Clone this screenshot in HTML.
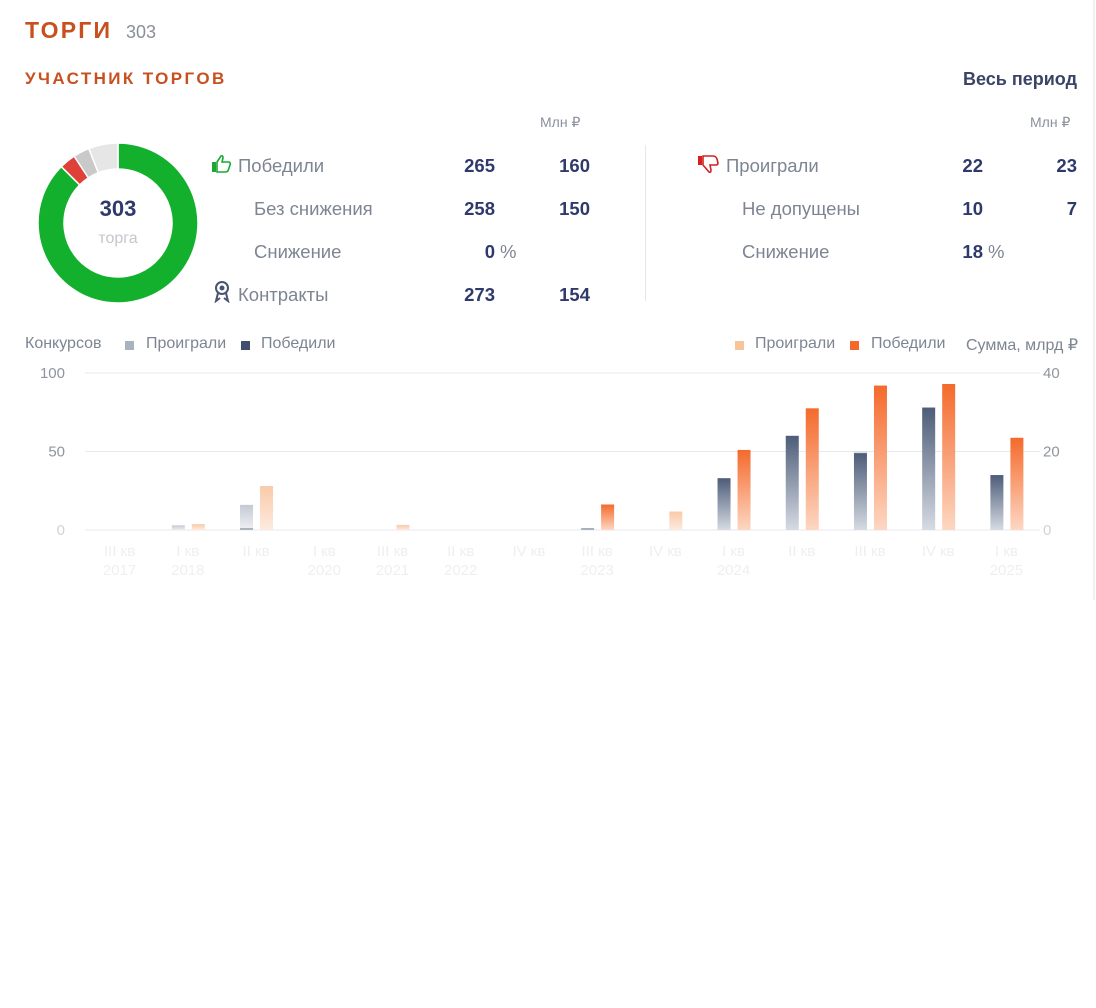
<!DOCTYPE html>
<html><head><meta charset="utf-8">
<style>
body{margin:0;width:1096px;height:1008px;background:#fff;font-family:"Liberation Sans",sans-serif;position:relative;overflow:hidden}
.a{position:absolute;white-space:nowrap}
.lbl{font-size:18.5px;color:#7d8593}
.num{font-size:18.5px;font-weight:bold;color:#2f3a6b;text-align:right}
.unit{font-size:14px;color:#8a909c}
.leg{font-size:16px;color:#7d8593}
</style></head><body>
<div class="a" style="left:1093px;top:0;width:2px;height:600px;background:#f0f0f2"></div>
<div class="a" style="left:25px;top:17px;font-size:23px;font-weight:bold;color:#c8501e;letter-spacing:2.2px">ТОРГИ</div>
<div class="a" style="left:126px;top:22px;font-size:18px;color:#8a8f99">303</div>
<div class="a" style="left:25px;top:69px;font-size:17px;font-weight:bold;color:#c8501e;letter-spacing:2.4px">УЧАСТНИК ТОРГОВ</div>
<div class="a" style="right:19px;top:69px;font-size:18px;font-weight:bold;color:#3a4466">Весь период</div>

<svg class="a" style="left:0;top:100px" width="240" height="240" id="donut"></svg>
<div class="a" style="left:78px;top:196px;width:80px;text-align:center;font-size:22px;font-weight:bold;color:#2f3a6b">303</div>
<div class="a" style="left:78px;top:230px;width:80px;text-align:center;font-size:16px;color:#c4c7cc">торга</div>

<div class="a unit" style="left:540px;top:114px">Млн ₽</div>
<svg class="a" style="left:211px;top:154px" width="22" height="20" viewBox="0 0 22 20"><rect x="1" y="8" width="4" height="10" fill="#1aa832"/><path d="M6 8 L10 2 Q12 1 12 4 L11 8 L18 8 Q20 9 19 11 L17 17 Q16 18 14 18 L6 18 Z" fill="none" stroke="#1aa832" stroke-width="1.6"/></svg>
<div class="a lbl" style="left:238px;top:155px">Победили</div>
<div class="a num" style="left:420px;width:75px;top:155px">265</div>
<div class="a num" style="left:515px;width:75px;top:155px">160</div>
<div class="a lbl" style="left:254px;top:198px">Без снижения</div>
<div class="a num" style="left:420px;width:75px;top:198px">258</div>
<div class="a num" style="left:515px;width:75px;top:198px">150</div>
<div class="a lbl" style="left:254px;top:241px">Снижение</div>
<div class="a num" style="left:420px;width:75px;top:241px">0</div>
<div class="a lbl" style="left:500px;top:241px">%</div>
<svg class="a" style="left:213px;top:281px" width="18" height="22" viewBox="0 0 18 22"><circle cx="9" cy="7" r="6" fill="none" stroke="#4a5470" stroke-width="2"/><circle cx="9" cy="7" r="2.5" fill="#4a5470"/><path d="M5 12 L3 20 L7 17 M13 12 L15 20 L11 17" fill="none" stroke="#4a5470" stroke-width="2"/></svg>
<div class="a lbl" style="left:238px;top:284px">Контракты</div>
<div class="a num" style="left:420px;width:75px;top:284px">273</div>
<div class="a num" style="left:515px;width:75px;top:284px">154</div>

<div class="a" style="left:645px;top:145px;width:1px;height:156px;background:#e6e7ea"></div>

<div class="a unit" style="left:1030px;top:114px">Млн ₽</div>
<svg class="a" style="left:697px;top:154px" width="24" height="22" viewBox="0 0 24 22"><rect x="1" y="2" width="4" height="9" fill="#d42020"/><path d="M6 2 L16 2 Q19 2 20 5 L21 9 Q21 11 19 11 L13 11 L14 16 Q14 19 12 18 L6 11 Z" fill="none" stroke="#d42020" stroke-width="1.6"/></svg>
<div class="a lbl" style="left:726px;top:155px">Проиграли</div>
<div class="a num" style="left:908px;width:75px;top:155px">22</div>
<div class="a num" style="left:1002px;width:75px;top:155px">23</div>
<div class="a lbl" style="left:742px;top:198px">Не допущены</div>
<div class="a num" style="left:908px;width:75px;top:198px">10</div>
<div class="a num" style="left:1002px;width:75px;top:198px">7</div>
<div class="a lbl" style="left:742px;top:241px">Снижение</div>
<div class="a num" style="left:908px;width:75px;top:241px">18</div>
<div class="a lbl" style="left:988px;top:241px">%</div>

<div class="a leg" style="left:25px;top:335px">Конкурсов</div>
<div class="a" style="left:125px;top:341px;width:9px;height:9px;background:#a9b2bf"></div>
<div class="a leg" style="left:146px;top:335px">Проиграли</div>
<div class="a" style="left:241px;top:341px;width:9px;height:9px;background:#3f4f6c"></div>
<div class="a leg" style="left:261px;top:335px">Победили</div>
<div class="a" style="left:735px;top:341px;width:9px;height:9px;background:#f8c49a"></div>
<div class="a leg" style="left:755px;top:335px">Проиграли</div>
<div class="a" style="left:850px;top:341px;width:9px;height:9px;background:#f4692a"></div>
<div class="a leg" style="left:871px;top:335px">Победили</div>
<div class="a leg" style="left:966px;top:335px">Сумма, млрд ₽</div>

<svg class="a" style="left:0;top:360px" width="1096" height="230" id="chart">
<defs>
<linearGradient id="gWon" x1="0" y1="0" x2="0" y2="1"><stop offset="0" stop-color="#4d5c78"/><stop offset="1" stop-color="#d6dbe3"/></linearGradient>
<linearGradient id="gLost" x1="0" y1="0" x2="0" y2="1"><stop offset="0" stop-color="#c4cad4"/><stop offset="1" stop-color="#eceef2"/></linearGradient>
<linearGradient id="oWon" x1="0" y1="0" x2="0" y2="1"><stop offset="0" stop-color="#f46a2c"/><stop offset="1" stop-color="#fdd7c3"/></linearGradient>
<linearGradient id="oLost" x1="0" y1="0" x2="0" y2="1"><stop offset="0" stop-color="#f9caa8"/><stop offset="1" stop-color="#fdeadf"/></linearGradient>
</defs>
</svg>

<script>
const categories=["III кв|2017","I кв|2018","II кв|","I кв|2020","III кв|2021","II кв|2022","IV кв|","III кв|2023","IV кв|","I кв|2024","II кв|","III кв|","IV кв|","I кв|2025"];
const wonCount=[0,0,1,0,0,0,0,1,0,33,60,49,78,35];
const lostCount=[0,3,15,0,0,0,0,0,0,0,0,1,0,0];
const wonSum=[0,0,0,0,0,0,0,6.5,0,20.4,31,36.8,37.2,23.5];
const lostSum=[0,1.5,11.2,0,1.3,0,0,0,4.7,0,0,0,0,0];
const leftTicks=[0,50,100];
const rightTicks=[0,20,40];
const donutValues=[265,10,10,18];
const donutColors=["#12b02c","#e0403a","#c9c9c9","#e6e6e6"];

const NS="http://www.w3.org/2000/svg";
const svg=document.getElementById('chart');
const top0=360, x0=85, x1=1040, yBase=530-top0, yTop=373-top0;
const yL=v=>yBase-(v/100)*(yBase-yTop);
const yR=v=>yBase-(v/40)*(yBase-yTop);
const step=(x1-x0)/categories.length;
const xC=i=>x0+step*(i+0.5)+0.5;
function mk(tag,attrs){const e=document.createElementNS(NS,tag);for(const k in attrs)e.setAttribute(k,attrs[k]);svg.appendChild(e);return e;}
leftTicks.forEach((t,i)=>{
  const l=mk('line',{x1:x0,x2:x1,y1:yL(t),y2:yL(t),stroke:'#e8e9ec','stroke-width':1});
  
  
  const tx=mk('text',{x:65,y:yL(t)+5,'text-anchor':'end','font-size':15,fill:t===0?'#d0d3d8':'#8f949d','font-family':'Liberation Sans'});
  tx.textContent=t;
  
  
});
rightTicks.forEach(t=>{
  const tx=mk('text',{x:1043,y:yR(t)+5,'font-size':15,fill:t===0?'#d0d3d8':'#8f949d','font-family':'Liberation Sans'});
  tx.textContent=t;
  
  
});
const bw=13;
categories.forEach((c,i)=>{
  const cx=xC(i);
  const gx=cx-16, ox=cx+4;
  if(wonCount[i]>0){const r=mk('rect',{x:gx,y:yL(wonCount[i]),width:bw,height:yBase-yL(wonCount[i]),fill:'url(#gWon)'});
    
    }
  if(lostCount[i]>0){const y=yL(wonCount[i]+lostCount[i]);const r=mk('rect',{x:gx,y:y,width:bw,height:yL(wonCount[i])-y,fill:'url(#gLost)'});
    
    }
  if(wonSum[i]>0){const r=mk('rect',{x:ox,y:yR(wonSum[i]),width:bw,height:yBase-yR(wonSum[i]),fill:'url(#oWon)'});
    
    }
  if(lostSum[i]>0){const y=yR(wonSum[i]+lostSum[i]);const r=mk('rect',{x:ox,y:y,width:bw,height:yR(wonSum[i])-y,fill:'url(#oLost)'});
    
    }
  const [a,b]=c.split('|');
  const t1=mk('text',{x:cx,y:yBase+26,'text-anchor':'middle','font-size':15,fill:'#eeeff1','font-family':'Liberation Sans'});
  t1.textContent=a;
  
  
  if(b){const t2=mk('text',{x:cx,y:yBase+45,'text-anchor':'middle','font-size':15,fill:'#eeeff1','font-family':'Liberation Sans'});
    t2.textContent=b;
    
    }
});
// donut
const d=document.getElementById('donut');
const cx=118,cy=123,R=80,r=54;
const total=donutValues.reduce((s,v)=>s+v,0);
let ang=0;
donutValues.forEach((v,i)=>{
  const a0=ang, a1=ang+v/total*2*Math.PI; ang=a1;
  const p=(a,rad)=>[cx+rad*Math.sin(a),cy-rad*Math.cos(a)];
  const large=(a1-a0)>Math.PI?1:0;
  const [x1a,y1a]=p(a0,R),[x2a,y2a]=p(a1,R),[x3,y3]=p(a1,r),[x4,y4]=p(a0,r);
  const e=document.createElementNS(NS,'path');
  e.setAttribute('d',`M${x1a} ${y1a} A${R} ${R} 0 ${large} 1 ${x2a} ${y2a} L${x3} ${y3} A${r} ${r} 0 ${large} 0 ${x4} ${y4} Z`);
  e.setAttribute('fill',donutColors[i]);
  e.setAttribute('stroke','#fff');
  e.setAttribute('stroke-width','1.5');
  
  
  d.appendChild(e);
});
</script>
</body></html>
